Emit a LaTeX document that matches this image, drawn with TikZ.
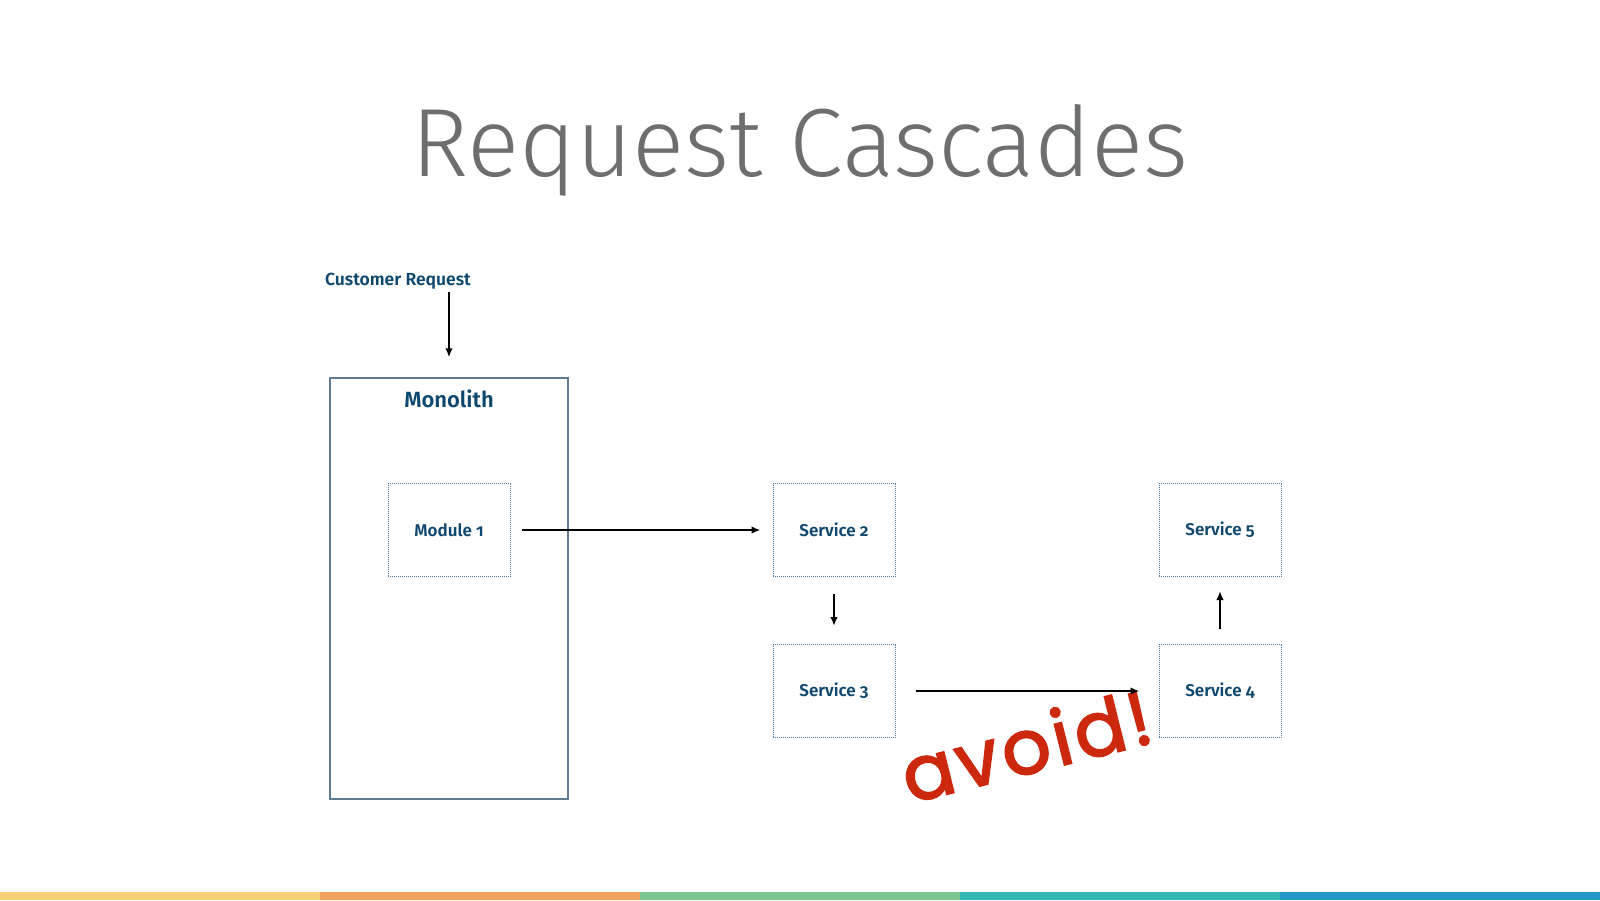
\documentclass[tikz,border=0pt]{standalone}
\usepackage{fontspec}
\setmainfont{Fira Sans}[Numbers=OldStyle]
\newfontfamily\titlefont{Fira Sans Light}
\newfontfamily\labelfont{Fira Sans SemiBold}[Numbers=OldStyle]
\newfontfamily\scrawlfont{Poppins}[FakeBold=2.5, LetterSpace=5]
\definecolor{slideblue}{RGB}{14,72,110}
\definecolor{slidegray}{RGB}{109,110,112}
\definecolor{monoline}{RGB}{96,124,148}
\definecolor{dotline}{RGB}{74,122,160}
\definecolor{avoidred}{RGB}{204,40,14}
\definecolor{baryellow}{RGB}{248,206,116}
\definecolor{barorange}{RGB}{242,160,98}
\definecolor{bargreen}{RGB}{122,198,142}
\definecolor{barteal}{RGB}{52,182,178}
\definecolor{barblue}{RGB}{34,152,200}
\usetikzlibrary{arrows.meta,positioning}

\begin{document}
\begin{tikzpicture}[x=1pt, y=-1pt,
    monobox/.style={rectangle, minimum width=238pt, minimum height=421pt,
      draw=monoline, line width=1.3pt},
    svcbox/.style={rectangle, minimum width=122pt, minimum height=93pt,
      draw=dotline, densely dotted, line width=1pt, align=center,
      text=slideblue, font=\labelfont\fontsize{17}{20}\selectfont},
    arrow/.style={-{Latex[length=9pt,width=7.5pt]}, line width=1.9pt, black}
  ]
    \useasboundingbox (0,0) rectangle (1600,900);
    % Title
    \node[anchor=base, text=slidegray, font=\titlefont\fontsize{97}{110}\selectfont] (title) at (800,176) {Request Cascades};
    % Monolith
    \node[monobox] (mono) at (449,588.5) {};
    \node[below=12pt of mono.north, inner sep=0pt, text=slideblue,
      font=\labelfont\fontsize{22}{26}\selectfont] (monolabel) {Monolith};
    \node[inner sep=0pt, text=slideblue, font=\labelfont\fontsize{17.5}{21}\selectfont] (cust) at (398,281) {Customer Request};
    % Modules and services
    \node[svcbox] (mod1) at (449,530) {Module 1};
    \node[svcbox] (svc2) at (834,530) {Service 2};
    \node[svcbox, below=67pt of svc2] (svc3) {Service 3};
    \node[svcbox] (svc5) at (1220,530) {Service 5};
    \node[svcbox, below=67pt of svc5] (svc4) {Service 4};
    \node[rotate=14, text=avoidred, font=\scrawlfont\fontsize{76}{86}\selectfont] (avoid) at (1026,745) {avoid!};
    % Calls
    \draw[arrow, shorten <=3pt, shorten >=20pt] (cust.south -| mono.north) -- (mono.north);
    \draw[arrow, shorten <=11pt, shorten >=12pt] (mod1) -- (svc2);
    \draw[arrow, shorten <=17pt, shorten >=18pt] (svc2) -- (svc3);
    \draw[arrow, shorten <=20pt, shorten >=19pt] (svc3) -- (svc4);
    \draw[arrow, shorten <=15pt, shorten >=14pt] (svc4) -- (svc5);
    % Colour bar
    \foreach \barcol [count=\i from 0] in {baryellow,barorange,bargreen,barteal,barblue}
      \fill[\barcol] (320*\i,892) rectangle (320*\i+320,900);
  \end{tikzpicture}
\end{document}
